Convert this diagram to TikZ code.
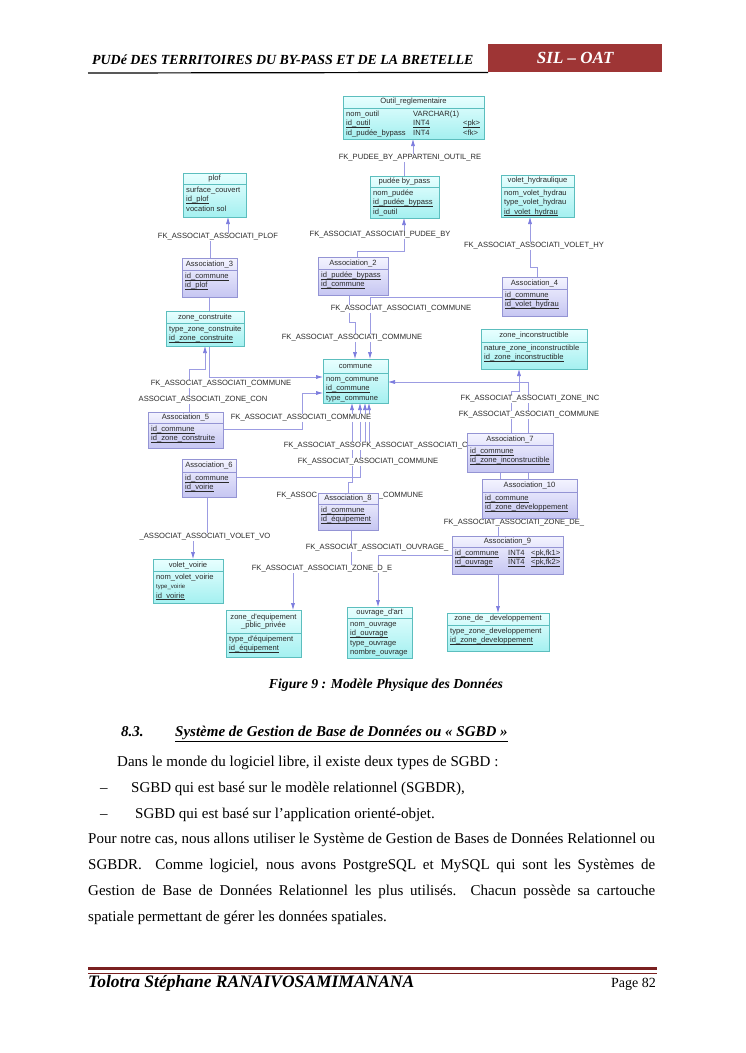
\documentclass[tikz,border=0pt]{standalone}
\usepackage{fontspec}
\setmainfont{Liberation Serif}
\newfontfamily\dsans{Liberation Sans}
\usetikzlibrary{arrows.meta}
\pgfdeclarelayer{base}
\pgfdeclarelayer{bg}
\pgfdeclarelayer{mid}
\pgfsetlayers{base,bg,mid,main}
\definecolor{entA}{HTML}{E8FFFF}
\definecolor{entB}{HTML}{A4F0F0}
\definecolor{entD}{HTML}{5CBEBE}
\definecolor{ascA}{HTML}{F4F4FF}
\definecolor{ascB}{HTML}{C6C6F2}
\definecolor{ascD}{HTML}{9494D4}
\definecolor{lnk}{HTML}{9C9CE2}
\definecolor{arr}{HTML}{7A7ADE}
\definecolor{hred}{HTML}{9E3535}
\definecolor{fred}{HTML}{7A2020}
\definecolor{txt}{HTML}{2A2A2A}
\newsavebox\ulbox
\newcommand{\ul}[1]{\sbox\ulbox{#1}\rlap{\rule[-1.5pt]{\wd\ulbox}{0.45pt}}\usebox\ulbox}
\tikzset{
 ent/.style={draw=entD, top color=entA, bottom color=entB, inner sep=0, outer sep=0, line width=0.6pt},
 entsep/.style={draw=entD, line width=0.5pt},
 asc/.style={draw=ascD, top color=ascA, bottom color=ascB, inner sep=0, outer sep=0, line width=0.6pt},
 ascsep/.style={draw=ascD, line width=0.5pt},
 hdr/.style={inner sep=0, font=\dsans\fontsize{7.6}{8.6}\selectfont, text=txt, align=center},
 rows/.style={anchor=north west, inner sep=0, font=\dsans\fontsize{7.6}{9.4}\selectfont, text=txt, align=left},
 lbl/.style={fill=white, inner sep=0.6pt, font=\dsans\fontsize{7.6}{8.6}\selectfont, text=txt},
 lnkline/.style={draw=lnk, line width=0.6pt},
 fk/.style={lnkline, -{Latex[length=7pt,width=4pt,color=arr]}},
 body/.style={inner sep=0, anchor=west, font=\fontsize{15}{18}\selectfont, text height=10pt, text depth=3pt},
}
\newcommand{\tbl}[9]{%
  \node[#2, minimum width={(#5-#3)*1pt}, minimum height={(#6-#4)*1pt}, anchor=north west] (#1) at (#3,#4) {};
  \draw[#2sep] (#3,#7) -- (#5,#7);
  \node[hdr] (#1h) at ({(#3+#5)/2},{(#4+#7)/2}) {#8};
  \node[rows] (#1r) at (#3+3,#7+1.8) {\strut #9};
}
\begin{document}
\begin{tikzpicture}[x=1pt,y=-1pt]
\begin{pgfonlayer}{base}
\useasboundingbox[fill=white] (0,0) rectangle (745,1053);
\end{pgfonlayer}

% page header
\node[inner sep=0, anchor=west, font=\bfseries\itshape\fontsize{13.9}{15}\selectfont] (htitle) at (92,60) {PUDé DES TERRITOIRES DU BY-PASS ET DE LA BRETELLE};
\node[fill=hred, minimum width=174pt, minimum height=28pt, anchor=north west, inner sep=0] (hbox) at (488,44) {};
\node[text=white, inner sep=0, font=\bfseries\itshape\fontsize{17}{19}\selectfont] (htag) at (hbox.center) {SIL – OAT};
\draw[line width=1.2pt] (88,73) -- (hbox.south west);

% tables
\tbl{outil}{ent}{343}{96}{484}{139}{108}{Outil\_reglementaire}{nom\_outil\\\ul{id\_outil}\\id\_pudée\_bypass}
\node[rows] (outilt) at (413,109.8) {\strut VARCHAR(1)\\\ul{INT4}\\INT4};
\node[rows] (outilk) at (463,109.8) {\strut\\\ul{<pk>}\\<fk>};
\tbl{pudee}{ent}{370}{176}{439}{218}{187}{pudée by\_pass}{nom\_pudée\\\ul{id\_pudée\_bypass}\\id\_outil}
\tbl{plof}{ent}{183}{173}{246}{217}{184}{plof}{surface\_couvert\\\ul{id\_plof}\\vocation sol}
\tbl{volh}{ent}{501}{175}{574}{217}{187}{volet\_hydraulique}{nom\_volet\_hydrau\\type\_volet\_hydrau\\\ul{id\_volet\_hydrau}}
\tbl{as3}{asc}{182}{258}{237}{297}{270}{Association\_3}{\ul{id\_commune}\\\ul{id\_plof}}
\tbl{as2}{asc}{318}{257}{388}{295}{269}{Association\_2}{\ul{id\_pudée\_bypass}\\\ul{id\_commune}}
\tbl{as4}{asc}{502}{277}{567}{316}{289}{Association\_4}{\ul{id\_commune}\\\ul{id\_volet\_hydrau}}
\tbl{zcons}{ent}{166}{311}{244}{346}{323}{zone\_construite}{type\_zone\_construite\\\ul{id\_zone\_construite}}
\tbl{zinc}{ent}{481}{329}{587}{369}{342}{zone\_inconstructible}{nature\_zone\_inconstructible\\\ul{id\_zone\_inconstructible}}
\tbl{comm}{ent}{323}{359}{388}{403}{373}{commune}{nom\_commune\\\ul{id\_commune}\\type\_commune}
\tbl{as5}{asc}{148}{412}{223}{448}{423}{Association\_5}{\ul{id\_commune}\\\ul{id\_zone\_construite}}
\tbl{as7}{asc}{467}{433}{553}{472}{445}{Association\_7}{\ul{id\_commune}\\\ul{id\_zone\_inconstructible}}
\tbl{as6}{asc}{182}{459}{236}{497}{472}{Association\_6}{\ul{id\_commune}\\\ul{id\_voirie}}
\tbl{as10}{asc}{482}{479}{577}{518}{492}{Association\_10}{\ul{id\_commune}\\\ul{id\_zone\_developpement}}
\tbl{as8}{asc}{318}{493}{378}{530}{504}{Association\_8}{\ul{id\_commune}\\\ul{id\_équipement}}
\tbl{as9}{asc}{452}{536}{563}{574}{547}{Association\_9}{\ul{id\_commune}\\\ul{id\_ouvrage}}
\node[rows] (as9t) at (508,548.8) {\strut\ul{INT4}\\\ul{INT4}};
\node[rows] (as9k) at (531,548.8) {\strut\ul{<pk,fk1>}\\\ul{<pk,fk2>}};
\tbl{vvoir}{ent}{153}{559}{223}{603}{571}{volet\_voirie}{nom\_volet\_voirie\\{\fontsize{6}{9.4}\selectfont type\_voirie}\\\ul{id\_voirie}}
\tbl{zequip}{ent}{226}{610}{301}{657}{633}{zone\_d'equipement\\\_pblic\_privée}{type\_d'équipement\\\ul{id\_équipement}}
\tbl{ouvr}{ent}{347}{607}{412}{658}{618}{ouvrage\_d'art}{nom\_ouvrage\\\ul{id\_ouvrage}\\type\_ouvrage\\nombre\_ouvrage}
\tbl{zdev}{ent}{447}{613}{549}{651}{625}{zone\_de \_developpement}{type\_zone\_developpement\\\ul{id\_zone\_developpement}}

% connectors
\begin{pgfonlayer}{bg}
\draw[fk] (pudee.north -| 404,0) |- (413,158) -- (outil.south -| 413,0);
\draw[fk] (as3.north -| 210,0) |- (228,237) -- (plof.south -| 228,0);
\draw[fk] (as2.north -| 357,0) |- (404,251) -- (pudee.south -| 404,0);
\draw[fk] (as4.north -| 537,0) |- (530,267) -- (volh.south -| 530,0);
\draw[fk] (as4.west |- 0,297) -| (comm.north -| 370,0);
\draw[fk] (as2.south -| 349,0) |- (355,322) -- (comm.north -| 355,0);
\draw[fk] (as3.south -| 209,0) |- (comm.west |- 0,377);
\draw[fk] (as5.north -| 189,0) |- (205,369) -- (zcons.south -| 205,0);
\draw[fk] (as5.east |- 0,429) -| (302,393) -- (comm.west |- 0,393);
\draw[fk] (as10.north -| 528,0) |- (comm.east |- 0,382);
\draw[fk] (as7.north -| 511,0) |- (519,391) -- (zinc.south -| 519,0);
\draw[fk] (as10.north -| 500,0) |- (369,449) -- (comm.south -| 369,0);
\draw[fk] (as6.east |- 0,477) -| (comm.south -| 360,0);
\coordinate (cn) at (365,446);
\draw[fk] (cn) -- (comm.south -| 365,0);
\draw[fk] (as8.north -| 348,0) |- (352,482) -- (comm.south -| 352,0);
\draw[fk] (as8.south -| 351,0) |- (293,569) -- (zequip.north -| 293,0);
\draw[fk] (as9.west |- 0,555) -| (ouvr.north -| 378,0);
\draw[fk] (as10.south -| 498,0) -- (zdev.north -| 498,0);
\draw[fk] (as6.south -| 207,0) |- (193,537) -- (vvoir.north -| 193,0);
\end{pgfonlayer}

% connector labels
\begin{pgfonlayer}{mid}
\node[lbl] (L1) at (410,158) {FK\_PUDEE\_BY\_APPARTENI\_OUTIL\_RE};
\node[lbl] (L2) at (218,237) {FK\_ASSOCIAT\_ASSOCIATI\_PLOF};
\node[lbl] (L3) at (380,235) {FK\_ASSOCIAT\_ASSOCIATI\_PUDEE\_BY};
\node[lbl] (L4) at (534,246) {FK\_ASSOCIAT\_ASSOCIATI\_VOLET\_HY};
\node[lbl] (L5) at (401,309) {FK\_ASSOCIAT\_ASSOCIATI\_COMMUNE};
\node[lbl] (L6) at (352,338) {FK\_ASSOCIAT\_ASSOCIATI\_COMMUNE};
\node[lbl] (L7) at (221,384) {FK\_ASSOCIAT\_ASSOCIATI\_COMMUNE};
\node[lbl] (L8) at (203,400) {ASSOCIAT\_ASSOCIATI\_ZONE\_CON};
\node[lbl] (L9) at (301,418) {FK\_ASSOCIAT\_ASSOCIATI\_COMMUNE};
\node[lbl] (L10) at (530,399) {FK\_ASSOCIAT\_ASSOCIATI\_ZONE\_INC};
\node[lbl] (L11) at (529,415) {FK\_ASSOCIAT\_ASSOCIATI\_COMMUNE};
\node[lbl, anchor=west] (L12) at (283,446) {FK\_ASSOCIAT\_ASSO};
\node[lbl, anchor=west] (L13) at (361,446) {FK\_ASSOCIAT\_ASSOCIATI\_C};
\node[lbl] (L14) at (368,462) {FK\_ASSOCIAT\_ASSOCIATI\_COMMUNE};
\node[lbl, anchor=east] (L15) at (318,496) {FK\_ASSOC};
\node[lbl, anchor=west] (L16) at (378,496) {\_COMMUNE};
\node[lbl] (L17) at (514,523) {FK\_ASSOCIAT\_ASSOCIATI\_ZONE\_DE\_};
\node[lbl] (L18) at (205,537) {\_ASSOCIAT\_ASSOCIATI\_VOLET\_VO};
\node[lbl] (L19) at (377,548) {FK\_ASSOCIAT\_ASSOCIATI\_OUVRAGE\_};
\node[lbl] (L20) at (322,569) {FK\_ASSOCIAT\_ASSOCIATI\_ZONE\_D\_E};
\end{pgfonlayer}

% caption and body text
\node[body, anchor=center, font=\bfseries\itshape\fontsize{13.75}{16}\selectfont] (cap) at (386,685) {Figure 9 : Modèle Physique des Données};
\node[body, font=\bfseries\itshape\fontsize{15}{18}\selectfont] (secn) at (121,733) {8.3.};
\node[body, font=\bfseries\itshape\fontsize{15}{18}\selectfont] (sect) at (175,733) {\underline{Système de Gestion de Base de Données ou « SGBD »}};
\node[body] (l1) at (117,763) {Dans le monde du logiciel libre, il existe deux types de SGBD :};
\node[body] (d1) at (100,789) {–};
\node[body] (l2) at (131,789) {SGBD qui est basé sur le modèle relationnel (SGBDR),};
\node[body] (d2) at (100,815) {–};
\node[body] (l3) at (135,815) {SGBD qui est basé sur l’application orienté-objet.};
\node[body] (l4) at (88,840) {\makebox[567pt][s]{Pour notre cas, nous allons utiliser le Système de Gestion de Bases de Données Relationnel ou}};
\node[body] (l5) at (88,866) {\makebox[567pt][s]{SGBDR.\ \ Comme logiciel, nous avons PostgreSQL et MySQL qui sont les Systèmes de}};
\node[body] (l6) at (88,892) {\makebox[567pt][s]{Gestion de Base de Données Relationnel les plus utilisés. Chacun possède sa cartouche}};
\node[body] (l7) at (88,918) {spatiale permettant de gérer les données spatiales.};

% footer
\draw[fred, line width=3pt] (88,968) -- (657,968);
\draw[fred, line width=0.8pt] (88,973) -- (657,973);
\node[body, font=\bfseries\itshape\fontsize{17.5}{19}\selectfont] (fname) at (88,984) {Tolotra Stéphane RANAIVOSAMIMANANA};
\node[body, anchor=east, font=\fontsize{14}{16}\selectfont] (fpage) at (656,984) {Page 82};
\end{tikzpicture}
\end{document}
